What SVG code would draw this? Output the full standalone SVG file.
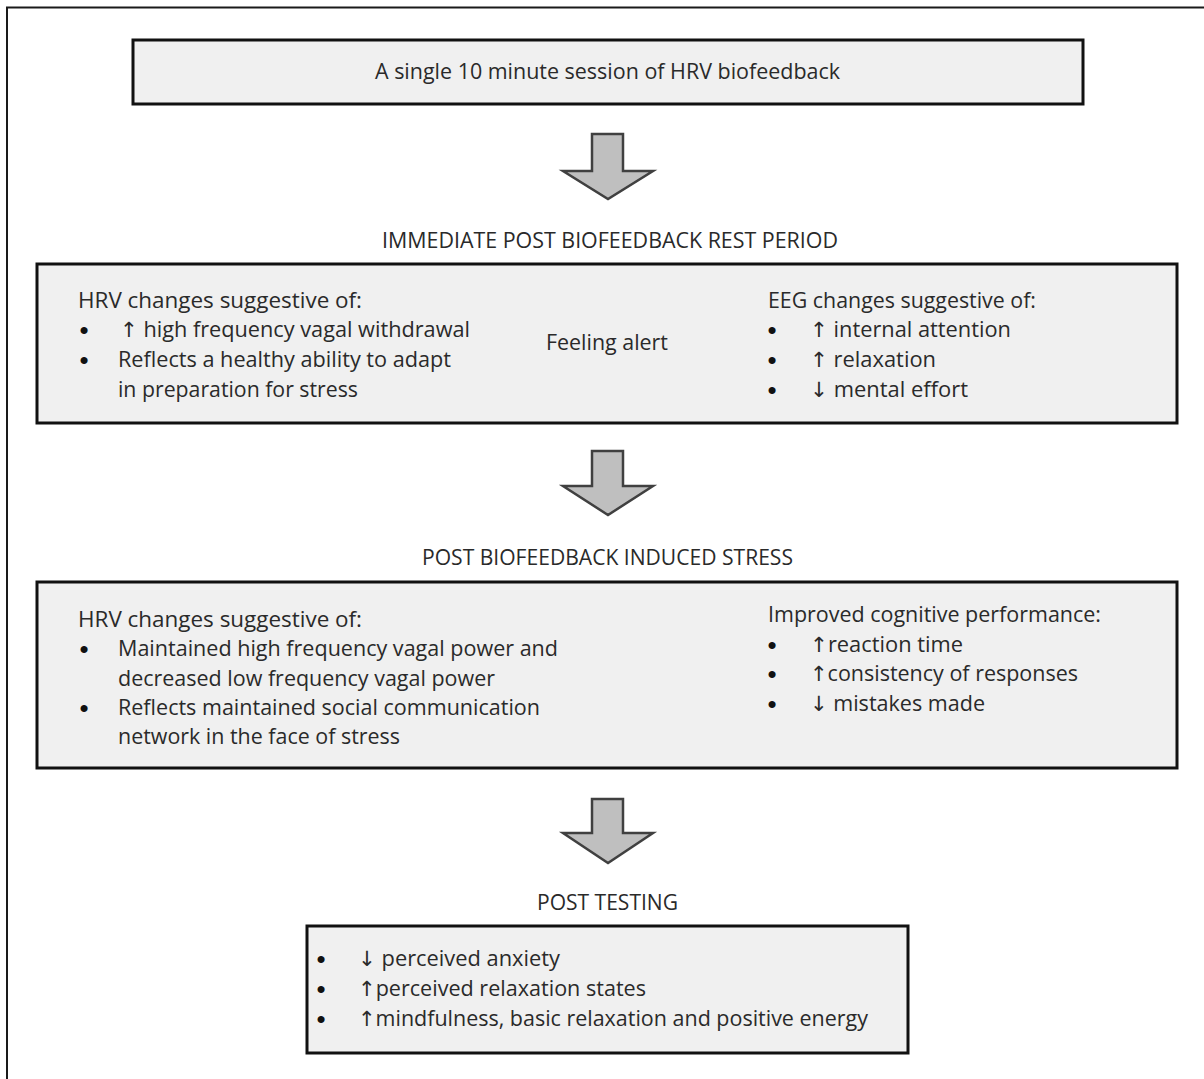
<svg xmlns="http://www.w3.org/2000/svg" width="1204" height="1079" viewBox="0 0 1204 1079">
<style>
.box{fill:#f0f0f0;stroke:#111;stroke-width:3}
.arr{fill:#bfbfbf;stroke:#404040;stroke-width:2.5;stroke-linejoin:miter}
text{font-family:"Open Sans","Liberation Sans",sans-serif;font-size:21.5px;fill:#2a2a2a}
.a{font-family:"DejaVu Sans",sans-serif;font-size:21px}
.b{font-family:"Liberation Sans",sans-serif;font-size:26px;text-anchor:middle;fill:#111}
</style>
<rect x="0" y="0" width="1204" height="1079" fill="#fff"/>
<rect x="7" y="7.5" width="1230" height="1100" fill="none" stroke="#1a1a1a" stroke-width="2"/>
<g id="connectors">
<polygon class="arr" points="592,134 623,134 623,171 653,171 608,199 563,171 592,171"/>
<polygon class="arr" points="592,451 623,451 623,486 653,486 608,515 563,486 592,486"/>
<polygon class="arr" points="592,799 623,799 623,833 653,833 608,863 563,833 592,833"/>
</g>
<g id="session">
<rect class="box" x="133" y="40" width="950" height="64"/>
<text x="375" y="79" textLength="465" lengthAdjust="spacingAndGlyphs">A single 10 minute session of HRV biofeedback</text>
</g>
<g id="label-rest"><text x="382" y="248" textLength="456" lengthAdjust="spacingAndGlyphs">IMMEDIATE POST BIOFEEDBACK REST PERIOD</text></g>
<g id="rest-period">
<rect class="box" x="37" y="264" width="1140" height="159"/>
<text x="78" y="308" textLength="284" lengthAdjust="spacingAndGlyphs">HRV changes suggestive of:</text>
<text class="b" x="84" y="339">•</text><text x="120" y="337" textLength="350" lengthAdjust="spacingAndGlyphs"><tspan class="a">↑</tspan> high frequency vagal withdrawal</text>
<text class="b" x="84" y="369">•</text><text x="118" y="367" textLength="333" lengthAdjust="spacingAndGlyphs">Reflects a healthy ability to adapt</text>
<text x="118" y="397" textLength="240" lengthAdjust="spacingAndGlyphs">in preparation for stress</text>
<text x="546" y="350" textLength="122" lengthAdjust="spacingAndGlyphs">Feeling alert</text>
<text x="768" y="308" textLength="268" lengthAdjust="spacingAndGlyphs">EEG changes suggestive of:</text>
<text class="b" x="772" y="339">•</text><text x="810" y="337" textLength="201" lengthAdjust="spacingAndGlyphs"><tspan class="a">↑</tspan> internal attention</text>
<text class="b" x="772" y="369">•</text><text x="810" y="367" textLength="126" lengthAdjust="spacingAndGlyphs"><tspan class="a">↑</tspan> relaxation</text>
<text class="b" x="772" y="399">•</text><text x="810" y="397" textLength="158" lengthAdjust="spacingAndGlyphs"><tspan class="a">↓</tspan> mental effort</text>
</g>
<g id="label-stress"><text x="422" y="565" textLength="371" lengthAdjust="spacingAndGlyphs">POST BIOFEEDBACK INDUCED STRESS</text></g>
<g id="induced-stress">
<rect class="box" x="37" y="582" width="1140" height="186"/>
<text x="78" y="627" textLength="284" lengthAdjust="spacingAndGlyphs">HRV changes suggestive of:</text>
<text class="b" x="84" y="658">•</text><text x="118" y="656" textLength="440" lengthAdjust="spacingAndGlyphs">Maintained high frequency vagal power and</text>
<text x="118" y="686" textLength="377" lengthAdjust="spacingAndGlyphs">decreased low frequency vagal power</text>
<text class="b" x="84" y="717">•</text><text x="118" y="715" textLength="422" lengthAdjust="spacingAndGlyphs">Reflects maintained social communication</text>
<text x="118" y="744" textLength="282" lengthAdjust="spacingAndGlyphs">network in the face of stress</text>
<text x="768" y="622" textLength="333" lengthAdjust="spacingAndGlyphs">Improved cognitive performance:</text>
<text class="b" x="772" y="654">•</text><text x="810" y="652" textLength="153" lengthAdjust="spacingAndGlyphs"><tspan class="a">↑</tspan>reaction time</text>
<text class="b" x="772" y="683">•</text><text x="810" y="681" textLength="268" lengthAdjust="spacingAndGlyphs"><tspan class="a">↑</tspan>consistency of responses</text>
<text class="b" x="772" y="713">•</text><text x="810" y="711" textLength="175" lengthAdjust="spacingAndGlyphs"><tspan class="a">↓</tspan> mistakes made</text>
</g>
<g id="label-testing"><text x="537" y="910" textLength="141" lengthAdjust="spacingAndGlyphs">POST TESTING</text></g>
<g id="post-testing">
<rect class="box" x="307" y="926" width="601" height="127"/>
<text class="b" x="321" y="968">•</text><text x="358" y="966" textLength="202" lengthAdjust="spacingAndGlyphs"><tspan class="a">↓</tspan> perceived anxiety</text>
<text class="b" x="321" y="998">•</text><text x="358" y="996" textLength="288" lengthAdjust="spacingAndGlyphs"><tspan class="a">↑</tspan>perceived relaxation states</text>
<text class="b" x="321" y="1028">•</text><text x="358" y="1026" textLength="510" lengthAdjust="spacingAndGlyphs"><tspan class="a">↑</tspan>mindfulness, basic relaxation and positive energy</text>
</g>
</svg>
